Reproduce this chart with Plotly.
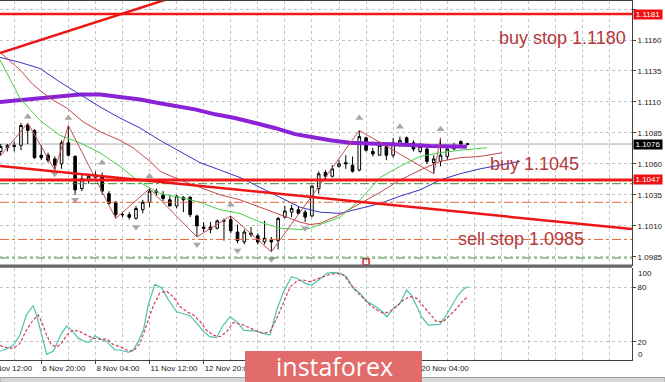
import plotly.graph_objects as go

# ---------------- data ----------------
bar_index = list(range(70))
open_px = [1.1070, 1.1073, 1.1075, 1.1075, 1.1091, 1.1087, 1.1067, 1.1067, 1.1064, 1.1060,
           1.1077, 1.1066, 1.1040, 1.1047, 1.1049, 1.1050, 1.1036, 1.1029, 1.1019, 1.1019,
           1.1016, 1.1023, 1.1029, 1.1038, 1.1035, 1.1031, 1.1026, 1.1033, 1.1033, 1.1018,
           1.1009, 1.1009, 1.1008, 1.1014, 1.1015, 1.1005, 1.0997, 1.1004, 1.1002, 1.0997,
           1.0999, 1.0998, 1.1017, 1.1021, 1.1023, 1.1021, 1.1018, 1.1040, 1.1053, 1.1050,
           1.1058, 1.1061, 1.1059, 1.1055, 1.1081, 1.1070, 1.1067, 1.1074, 1.1067, 1.1076,
           1.1081, 1.1077, 1.1070, 1.1072, 1.1061, 1.1062, 1.1066, 1.1072, 1.1078, 1.1076]
high_px = [1.1076, 1.1076, 1.1078, 1.1093, 1.1093, 1.1088, 1.1075, 1.1069, 1.1066, 1.1079,
           1.1091, 1.1067, 1.1052, 1.1052, 1.1054, 1.1053, 1.1038, 1.1030, 1.1021, 1.1021,
           1.1026, 1.1031, 1.1040, 1.1040, 1.1038, 1.1034, 1.1035, 1.1034, 1.1034, 1.1019,
           1.1013, 1.1013, 1.1015, 1.1016, 1.1018, 1.1011, 1.1007, 1.1009, 1.1004, 1.1014,
           1.1001, 1.1017, 1.1026, 1.1027, 1.1026, 1.1023, 1.1043, 1.1054, 1.1055, 1.1059,
           1.1063, 1.1067, 1.1066, 1.1087, 1.1082, 1.1073, 1.1078, 1.1077, 1.1081, 1.1082,
           1.1082, 1.1079, 1.1077, 1.1074, 1.1067, 1.1081, 1.1075, 1.1077, 1.1079, 1.1077]
low_px = [1.1067, 1.1070, 1.1070, 1.1071, 1.1076, 1.1064, 1.1063, 1.1061, 1.1055, 1.1056,
          1.1066, 1.1035, 1.1038, 1.1044, 1.1046, 1.1035, 1.1027, 1.1016, 1.1017, 1.1015,
          1.1015, 1.1020, 1.1025, 1.1034, 1.1030, 1.1026, 1.1024, 1.1021, 1.1017, 1.1001,
          1.1005, 1.1004, 1.1007, 1.0998, 1.1004, 1.0996, 1.0995, 1.1001, 1.0995, 1.0995,
          1.0989, 1.0991, 1.1016, 1.1017, 1.1019, 1.1013, 1.1017, 1.1036, 1.1047, 1.1049,
          1.1057, 1.1056, 1.1053, 1.1054, 1.1070, 1.1066, 1.1067, 1.1063, 1.1065, 1.1074,
          1.1075, 1.1070, 1.1069, 1.1060, 1.1052, 1.1058, 1.1063, 1.1071, 1.1074, 1.1075]
close_px = [1.1074, 1.1075, 1.1074, 1.1091, 1.1087, 1.1065, 1.1065, 1.1063, 1.1059, 1.1077,
            1.1067, 1.1039, 1.1048, 1.1050, 1.1051, 1.1038, 1.1028, 1.1019, 1.1019, 1.1017,
            1.1024, 1.1029, 1.1038, 1.1037, 1.1032, 1.1026, 1.1034, 1.1031, 1.1019, 1.1010,
            1.1008, 1.1007, 1.1014, 1.1014, 1.1006, 1.0998, 1.1005, 1.1003, 1.0997, 1.1000,
            1.0997, 1.1016, 1.1022, 1.1024, 1.1020, 1.1017, 1.1042, 1.1052, 1.1050, 1.1056,
            1.1060, 1.1060, 1.1054, 1.1082, 1.1071, 1.1068, 1.1075, 1.1067, 1.1077, 1.1079,
            1.1077, 1.1072, 1.1074, 1.1062, 1.1064, 1.1067, 1.1072, 1.1075, 1.1076, 1.1076]

# time-axis labels (labels at bars 38, 46, 54 are hidden under the watermark in the source)
date_label_bars = [-2, 6, 14, 22, 30, 38, 46, 54, 62]
date_labels = ["5 Nov 12:00", "6 Nov 20:00", "8 Nov 04:00", "11 Nov 12:00", "12 Nov 20:00",
               "", "", "", "20 Nov 04:00"]
price_ticks = [1.0985, 1.1010, 1.1035, 1.1060, 1.1085, 1.1110, 1.1135, 1.1160, 1.1185]
# the 1.1185 label sits under the 1.1181 level box in the source
price_tick_text = ["1.0985", "1.1010", "1.1035", "1.1060", "1.1085", "1.1110", "1.1135",
                   "1.1160", ""]
stoch_ticks = [20, 80]

ma_bars = [-0.1, 5.8, 11.7, 14.7, 17.6, 20.6, 23.5, 28.7, 31.7, 34.6, 37.6, 40.5, 43.5,
           46.5, 48.7, 51.6, 54.6, 57.5, 60.5, 63.5, 66.4, 68.9]
ma_vals = [1.1110, 1.1113, 1.1116, 1.1116, 1.1114, 1.1112, 1.1109, 1.1104, 1.1100, 1.1097,
           1.1093, 1.1089, 1.1084, 1.1081, 1.1079, 1.1077, 1.10766, 1.10758, 1.10753,
           1.10744, 1.10739, 1.10739]

jaw_bars = [-0.1, 2.85, 5.81, 8.77, 11.72, 14.68, 17.63, 20.59, 23.55, 26.5, 29.46, 32.42,
            35.37, 38.33, 41.29, 44.24, 47.2, 50.16, 53.11, 56.07, 59.02, 61.98, 64.94,
            67.89, 70.85, 73.81, 76.76]
jaw_vals = [1.1146, 1.1142, 1.1137, 1.1126, 1.1116, 1.1106, 1.1097, 1.1089, 1.1079, 1.1070,
            1.1061, 1.1055, 1.1049, 1.1041, 1.1033, 1.1025, 1.1021, 1.1020, 1.1024, 1.1028,
            1.1034, 1.1039, 1.1047, 1.1052, 1.1056, 1.1059, 1.1062]

teeth_bars = [-0.1, 2.85, 4.77, 7.29, 9.80, 12.17, 14.68, 17.63, 19.56, 22.07, 23.55, 26.5,
              29.46, 32.42, 35.37, 38.33, 41.29, 44.24, 45.72, 47.2, 50.16, 53.11, 56.07,
              59.02, 61.98, 64.94, 67.89, 70.85, 74.1]
teeth_vals = [1.1150, 1.1136, 1.1124, 1.1113, 1.1105, 1.1094, 1.1086, 1.1079, 1.1073, 1.1062,
              1.1054, 1.1047, 1.1041, 1.1035, 1.1031, 1.1025, 1.1019, 1.1013, 1.1011, 1.1012,
              1.1019, 1.1028, 1.1037, 1.1047, 1.1055, 1.1062, 1.1065, 1.1066, 1.1069]

lips_bars = [-0.1, 1.37, 2.85, 4.33, 5.81, 8.77, 11.72, 14.68, 17.63, 20.59, 23.55, 26.5,
             29.46, 32.42, 35.37, 38.33, 41.29, 44.24, 45.72, 47.2, 50.16, 53.11, 56.07,
             59.02, 61.98, 64.94, 67.89, 71.89]
lips_vals = [1.1144, 1.1128, 1.1113, 1.1104, 1.1095, 1.1083, 1.1077, 1.1069, 1.1058, 1.1045,
             1.1036, 1.1033, 1.1029, 1.1023, 1.1020, 1.1013, 1.1008, 1.1007, 1.1008, 1.1011,
             1.1017, 1.1031, 1.1049, 1.1058, 1.1066, 1.1069, 1.1071, 1.1073]

zigzag_bars = [-0.1, 4, 8, 10, 17, 22, 29, 34, 40, 53, 64, 65]
zigzag_vals = [1.1066, 1.1093, 1.1055, 1.1091, 1.1016, 1.1040, 1.1001, 1.1018, 1.0989,
               1.1087, 1.1052, 1.1081]

fractal_up_bars = [4, 10, 15, 22, 34, 53, 59, 65]
fractal_up_vals = [1.1098, 1.1097, 1.1061, 1.1050, 1.1027, 1.1097, 1.1090, 1.1088]
fractal_dn_bars = [8, 11, 20, 29, 35, 40, 45]
fractal_dn_vals = [1.1052, 1.1031, 1.1009, 1.0995, 1.0990, 1.0983, 1.1008]

stoch_k_bars = [-0.1, 0.9, 1.9, 2.85, 3.8, 4.8, 5.3, 6.05, 6.8, 7.8,
                8.5, 9.0, 9.75, 10.5, 11.5, 12.5, 13.0, 13.9, 14.7, 15.7,
                16.9, 17.6, 18.9, 19.6, 20.3, 21.1, 21.8, 22.8, 23.8, 24.8,
                26.0, 27.0, 28.0, 29.0, 30.0, 30.9, 31.9, 32.9, 33.9, 34.9,
                35.9, 36.9, 37.8, 38.8, 39.8, 40.8, 41.8, 43.0, 44.0, 45.0,
                46.0, 47.0, 48.2, 49.2, 50.2, 51.1, 52.1, 53.1, 54.1, 55.1,
                56.1, 57.1, 58.0, 59.0, 60.0, 60.7, 61.5, 62.2, 63.2, 64.2,
                64.9, 65.7, 66.7, 67.6, 68.4, 69.1]
stoch_k_vals = [9.8, 12.0, 16.4, 27.4, 49.5, 59.8, 49.5, 27.4, 6.1, 9.8,
                21.9, 29.3, 37.3, 32.9, 23.7, 20.1, 19.3, 26.7, 23.0, 20.1,
                10.9, 10.9, 8.3, 10.9, 20.1, 32.9, 60.5, 83.3, 79.6, 66.0,
                53.1, 51.3, 48.7, 40.3, 31.1, 25.6, 24.5, 38.4, 47.6, 42.1,
                32.9, 32.2, 31.8, 29.3, 27.4, 55.0, 75.2, 91.7, 89.2, 84.4,
                82.5, 88.1, 95.4, 96.5, 95.4, 91.7, 78.9, 73.4, 64.2, 60.5,
                55.0, 47.6, 56.8, 62.3, 77.0, 71.5, 58.7, 47.6, 38.4, 38.4,
                39.2, 47.6, 60.5, 71.5, 78.1, 80.7]
stoch_d_bars = [-0.1, 0.9, 1.9, 2.85, 3.8, 4.8, 5.55, 6.05, 6.8, 7.5,
                8.3, 9.0, 9.75, 10.7, 11.7, 12.7, 13.7, 14.7, 15.7, 16.6,
                17.6, 18.6, 19.6, 20.6, 21.6, 22.6, 23.5, 24.5, 25.5, 26.5,
                27.5, 28.5, 29.5, 30.4, 31.4, 32.4, 33.4, 34.4, 35.9, 36.9,
                37.8, 38.8, 39.8, 40.8, 41.8, 42.8, 43.8, 44.7, 45.7, 46.7,
                47.7, 48.7, 49.7, 50.7, 51.6, 52.6, 53.6, 54.6, 55.6, 56.6,
                57.5, 58.5, 59.5, 60.5, 61.5, 62.5, 63.5, 64.4, 65.4, 66.4,
                67.4, 68.4, 69.1]
stoch_d_vals = [15.7, 13.5, 12.7, 18.2, 32.9, 44.0, 49.5, 42.1, 27.4, 16.4,
                14.6, 18.2, 27.4, 32.9, 31.1, 27.4, 23.7, 23.0, 23.0, 17.1,
                14.6, 10.9, 9.8, 18.2, 38.4, 60.5, 73.4, 75.9, 69.7, 58.7,
                53.2, 49.5, 42.1, 32.9, 27.4, 25.6, 31.1, 41.4, 38.4, 34.8,
                31.8, 29.3, 31.1, 45.8, 64.2, 80.7, 87.0, 88.1, 86.2, 89.2,
                91.7, 94.3, 95.4, 93.6, 84.4, 75.2, 67.9, 60.5, 55.0, 51.3,
                53.2, 58.7, 66.0, 69.7, 67.9, 58.7, 49.5, 42.1, 42.1, 49.5,
                56.8, 66.0, 69.7]

buy_stop_level = 1.1181
buy_level = 1.1047
last_price = 1.1076
green_levels = [1.1044, 1.0984]
orange_levels = [1.1029, 1.0999]
trend_up = ([-0.1, 30], [1.11495, 1.12024])
trend_down = ([-0.1, 93.3], [1.10583, 1.10074])
event_bar = [54]
event_val = [1.0981]

# ---------------- geometry helpers ----------------
W, H = 665, 382
ML, MR, MT, MB = 0, 33, 1, 22
PW, PH = W - ML - MR, H - MT - MB


def py(ypx):
    return (H - MB - ypx) / PH


def px(xpx):
    return (xpx - ML) / PW


GRID = "#c4c4c4"
AXC = "#404040"
TXT = "#b3383c"
FONT = "Liberation Sans"

fig = go.Figure()

fig.add_trace(go.Candlestick(
    x=bar_index, open=open_px, high=high_px, low=low_px, close=close_px,
    increasing=dict(line=dict(color="#000000", width=1), fillcolor="#ffffff"),
    decreasing=dict(line=dict(color="#000000", width=1), fillcolor="#000000"),
    whiskerwidth=0, xaxis="x", yaxis="y", showlegend=False, hoverinfo="skip"))

fig.add_trace(go.Scatter(x=ma_bars, y=ma_vals, mode="lines",
                         line=dict(color="#8b22d6", width=4), xaxis="x", yaxis="y"))
fig.add_trace(go.Scatter(x=jaw_bars, y=jaw_vals, mode="lines",
                         line=dict(color="#3434c4", width=1), xaxis="x", yaxis="y"))
fig.add_trace(go.Scatter(x=teeth_bars, y=teeth_vals, mode="lines",
                         line=dict(color="#c44848", width=1), xaxis="x", yaxis="y"))
fig.add_trace(go.Scatter(x=lips_bars, y=lips_vals, mode="lines",
                         line=dict(color="#44d044", width=1), xaxis="x", yaxis="y"))
fig.add_trace(go.Scatter(x=zigzag_bars, y=zigzag_vals, mode="lines",
                         line=dict(color="#c05050", width=1), xaxis="x", yaxis="y"))
fig.add_trace(go.Scatter(x=fractal_up_bars, y=fractal_up_vals, mode="markers",
                         marker=dict(symbol="triangle-up", size=7, color="#a8a8a8"),
                         xaxis="x", yaxis="y"))
fig.add_trace(go.Scatter(x=fractal_dn_bars, y=fractal_dn_vals, mode="markers",
                         marker=dict(symbol="triangle-down", size=7, color="#a8a8a8"),
                         xaxis="x", yaxis="y"))
fig.add_trace(go.Scatter(x=event_bar, y=event_val, mode="markers",
                         marker=dict(symbol="square-open", size=6, color="#e02020",
                                     line=dict(width=1.5)),
                         xaxis="x", yaxis="y"))

fig.add_trace(go.Scatter(x=stoch_k_bars, y=stoch_k_vals, mode="lines",
                         line=dict(color="#4cc2b2", width=1.2), xaxis="x2", yaxis="y2"))
fig.add_trace(go.Scatter(x=stoch_d_bars, y=stoch_d_vals, mode="lines",
                         line=dict(color="#d23a4a", width=1.2, dash="3px,2px"),
                         xaxis="x2", yaxis="y2"))

shapes = []
for lv in green_levels:
    shapes.append(dict(type="line", xref="paper", yref="y", x0=0, x1=1, y0=lv, y1=lv,
                       line=dict(color="#2f942f", width=1, dash="dashdot"), layer="above"))
for lv in orange_levels:
    shapes.append(dict(type="line", xref="paper", yref="y", x0=0, x1=1, y0=lv, y1=lv,
                       line=dict(color="#e0683a", width=1, dash="dashdot"), layer="above"))
shapes.append(dict(type="line", xref="paper", yref="y", x0=0, x1=1, y0=last_price,
                   y1=last_price, line=dict(color="#a8a8a8", width=1), layer="below"))
shapes.append(dict(type="line", xref="paper", yref="y", x0=0, x1=1, y0=buy_stop_level,
                   y1=buy_stop_level, line=dict(color="#f01818", width=2.5), layer="above"))
shapes.append(dict(type="line", xref="paper", yref="y", x0=0, x1=1, y0=buy_level,
                   y1=buy_level, line=dict(color="#f01818", width=3), layer="above"))
shapes.append(dict(type="line", xref="x", yref="y", x0=trend_up[0][0], x1=trend_up[0][1],
                   y0=trend_up[1][0], y1=trend_up[1][1],
                   line=dict(color="#ee1515", width=2.5), layer="above"))
shapes.append(dict(type="line", xref="x", yref="y", x0=trend_down[0][0], x1=trend_down[0][1],
                   y0=trend_down[1][0], y1=trend_down[1][1],
                   line=dict(color="#ee1515", width=2.5), layer="above"))
shapes.append(dict(type="rect", xref="paper", yref="paper", x0=0, x1=1,
                   y0=py(267.8), y1=py(264.6), fillcolor="#686868", line=dict(width=0),
                   layer="above"))
shapes.append(dict(type="rect", xref="paper", yref="paper", x0=0, x1=px(W),
                   y0=py(382.5), y1=py(377.5), fillcolor="#d6d6d6",
                   line=dict(color="#a0a0a0", width=1), layer="above"))
shapes.append(dict(type="rect", xref="paper", yref="paper", x0=px(245), x1=px(422),
                   y0=py(382.5), y1=py(351), fillcolor="#e26b6b", line=dict(width=0),
                   layer="above"))

annotations = []
for lv, col in [(buy_stop_level, "#ee1111"), (last_price, "#000000"), (buy_level, "#ee1111")]:
    annotations.append(dict(xref="paper", x=px(633), xanchor="left", yref="y", y=lv,
                            yanchor="middle", text=f"{lv:.4f}", showarrow=False,
                            bgcolor=col, width=28, height=9, borderpad=0,
                            font=dict(family=FONT, size=8, color="#ffffff")))
annotations.append(dict(xref="paper", x=px(636), xanchor="left", yref="paper", y=py(273.5),
                        yanchor="middle", text="100", showarrow=False,
                        font=dict(family=FONT, size=8, color="#202020")))
annotations.append(dict(xref="paper", x=px(636), xanchor="left", yref="paper", y=py(354.5),
                        yanchor="middle", text="0", showarrow=False,
                        font=dict(family=FONT, size=8, color="#202020")))
annotations.append(dict(xref="paper", x=px(0.7 + 6.765 * date_label_bars[0]), xanchor="left",
                        yref="paper", y=py(368.5), yanchor="middle", text=date_labels[0],
                        showarrow=False, font=dict(family=FONT, size=8, color="#202020")))
annotations.append(dict(xref="paper", x=px(497), xanchor="left", yref="y", y=1.11616,
                        yanchor="middle", text="buy stop 1.1180", showarrow=False,
                        font=dict(family=FONT, size=18, color=TXT)))
annotations.append(dict(xref="paper", x=px(488), xanchor="left", yref="y", y=1.10599,
                        yanchor="middle", text="buy 1.1045", showarrow=False,
                        font=dict(family=FONT, size=18, color=TXT)))
annotations.append(dict(xref="paper", x=px(456), xanchor="left", yref="y", y=1.09995,
                        yanchor="middle", text="sell stop 1.0985", showarrow=False,
                        font=dict(family=FONT, size=18, color=TXT)))
annotations.append(dict(xref="paper", x=px(334), xanchor="center", yref="paper",
                        y=py(366), yanchor="middle", text="instaforex", showarrow=False,
                        font=dict(family="Open Sans", size=25, color="#ffffff")))

tickfont = dict(family=FONT, size=8, color="#202020")

fig.update_layout(
    width=W, height=H, margin=dict(l=ML, r=MR, t=MT, b=MB),
    paper_bgcolor="white", plot_bgcolor="white", showlegend=False,
    boxgap=0.45,
    shapes=shapes, annotations=annotations,
    xaxis=dict(domain=[0, 1], range=[-0.1, 93.3], anchor="y", showticklabels=False,
               ticks="", tickmode="linear", tick0=2, dtick=4,
               showgrid=True, gridcolor=GRID, griddash="3px,3px", gridwidth=1,
               showline=True, mirror=True, linecolor=AXC, linewidth=1, zeroline=False,
               rangeslider=dict(visible=False), fixedrange=True),
    yaxis=dict(domain=[py(264.7), 1], range=[1.09786, 1.11915], anchor="x", side="right",
               tickmode="array", tickvals=price_ticks, ticktext=price_tick_text,
               ticks="outside", ticklen=3, tickcolor=AXC, tickfont=tickfont,
               showgrid=True, gridcolor=GRID, griddash="3px,3px", gridwidth=1,
               showline=True, linecolor=AXC, zeroline=False, fixedrange=True,
               automargin=False),
    xaxis2=dict(domain=[0, 1], range=[-0.1, 93.3], anchor="y2",
                tickmode="array", tickvals=date_label_bars[1:], ticktext=date_labels[1:],
                tickangle=0, ticks="outside", ticklen=3, tickcolor=AXC, tickfont=tickfont,
                ticklabelposition="outside right",
                showgrid=True, gridcolor=GRID, griddash="3px,3px", gridwidth=1,
                minor=dict(tickmode="linear", tick0=2, dtick=4, showgrid=True,
                           gridcolor=GRID, griddash="3px,3px", gridwidth=1, ticks=""),
                showline=True, linecolor=AXC, zeroline=False, fixedrange=True,
                automargin=False),
    yaxis2=dict(domain=[0, py(268)], range=[-0.1, 101.3], anchor="x2", side="right",
                tickmode="array", tickvals=stoch_ticks, ticks="outside", ticklen=3,
                tickcolor=AXC, tickfont=tickfont,
                showgrid=True, gridcolor=GRID, griddash="3px,3px", gridwidth=1,
                showline=True, linecolor=AXC, zeroline=False, fixedrange=True,
                automargin=False),
)

fig.write_html("out.html", config={"displayModeBar": False, "staticPlot": True},
               post_script="document.body.style.margin='0px';")
